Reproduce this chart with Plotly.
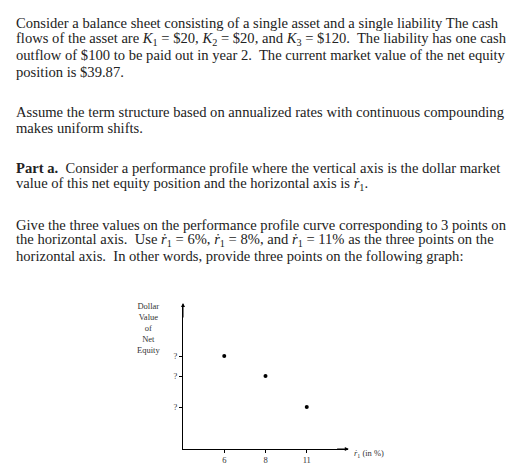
import plotly.graph_objects as go

rates = [6, 8, 11]
rate_positions = [1, 2, 3]     # schematic (evenly spaced) positions on the horizontal axis
values = [93, 73, 42]          # schematic heights of the unknown points
x_tick_labels = ["6", "8", "11"]
y_tick_labels = ["?", "?", "?"]

W, H = 514, 470
FONT = "Liberation Serif"
R1 = "<i>ṙ</i><sub>1</sub>"

lines = [
    (15, "Consider a balance sheet consisting of a single asset and a single liability The cash"),
    (31, "flows of the asset are <i>K</i><sub>1</sub> = $20, <i>K</i><sub>2</sub> = $20, and <i>K</i><sub>3</sub> = $120.  The liability has one cash"),
    (47, "outflow of $100 to be paid out in year 2.  The current market value of the net equity"),
    (64, "position is $39.87."),
    (104, "Assume the term structure based on annualized rates with continuous compounding"),
    (120, "makes uniform shifts."),
    (160, "<b>Part a.</b>  Consider a performance profile where the vertical axis is the dollar market"),
    (176, "value of this net equity position and the horizontal axis is " + R1 + "."),
    (217, "Give the three values on the performance profile curve corresponding to 3 points on"),
    (232, "the horizontal axis.  Use " + R1 + " = 6%, " + R1 + " = 8%, and " + R1 + " = 11% as the three points on the"),
    (248, "horizontal axis.  In other words, provide three points on the following graph:"),
]

fig = go.Figure()
fig.add_trace(go.Scatter(x=rate_positions, y=values, mode="markers", customdata=rates,
                         marker=dict(color="black", size=4), hoverinfo="skip"))

ann = []
for y, t in lines:
    ann.append(dict(xref="paper", yref="paper", x=6 / W, y=1 - y / H, xanchor="left",
                    yanchor="middle", text=t, showarrow=False,
                    font=dict(family=FONT, size=14.6, color="#222")))

ann.append(dict(xref="paper", yref="paper", x=140 / W, y=1 - 320 / H, xanchor="center",
                yanchor="middle", showarrow=False,
                text="Dollar<br>Value<br>of<br>Net<br>Equity",
                font=dict(family=FONT, size=8.5, color="#333")))
ann.append(dict(xref="paper", yref="paper", x=344 / W, y=1 - 445 / H, xanchor="left",
                yanchor="middle", showarrow=False, text=R1 + " (in %)",
                font=dict(family=FONT, size=8.5, color="#333")))
# arrow heads
ann.append(dict(xref="x", yref="y", axref="x", ayref="y", x=4.02, y=0, ax=3.7, ay=0,
                text="", showarrow=True, arrowhead=2, arrowsize=0.8, arrowwidth=1,
                arrowcolor="black"))
ann.append(dict(xref="x", yref="y", axref="x", ayref="y", x=0, y=146, ax=0, ay=130,
                text="", showarrow=True, arrowhead=2, arrowsize=0.8, arrowwidth=1,
                arrowcolor="black"))

fig.update_layout(
    width=W, height=H, margin=dict(l=0, r=0, t=0, b=0),
    paper_bgcolor="white", plot_bgcolor="white", showlegend=False,
    annotations=ann,
    xaxis=dict(domain=[175 / W, 340 / W], range=[0, 4], showgrid=False, zeroline=False,
               showline=True, linecolor="black", linewidth=1.2,
               tickmode="array", tickvals=rate_positions, ticktext=x_tick_labels,
               ticks="outside", ticklen=3, tickcolor="black",
               tickfont=dict(family=FONT, size=8.5, color="#333")),
    yaxis=dict(domain=[(H - 441) / H, (H - 297) / H], range=[0, 144], showgrid=False,
               zeroline=False, showline=True, linecolor="black", linewidth=1.2,
               tickmode="array", tickvals=values, ticktext=y_tick_labels,
               ticks="outside", ticklen=3, tickcolor="black",
               tickfont=dict(family=FONT, size=8.5, color="#333")),
)
fig.write_html("out.html")
